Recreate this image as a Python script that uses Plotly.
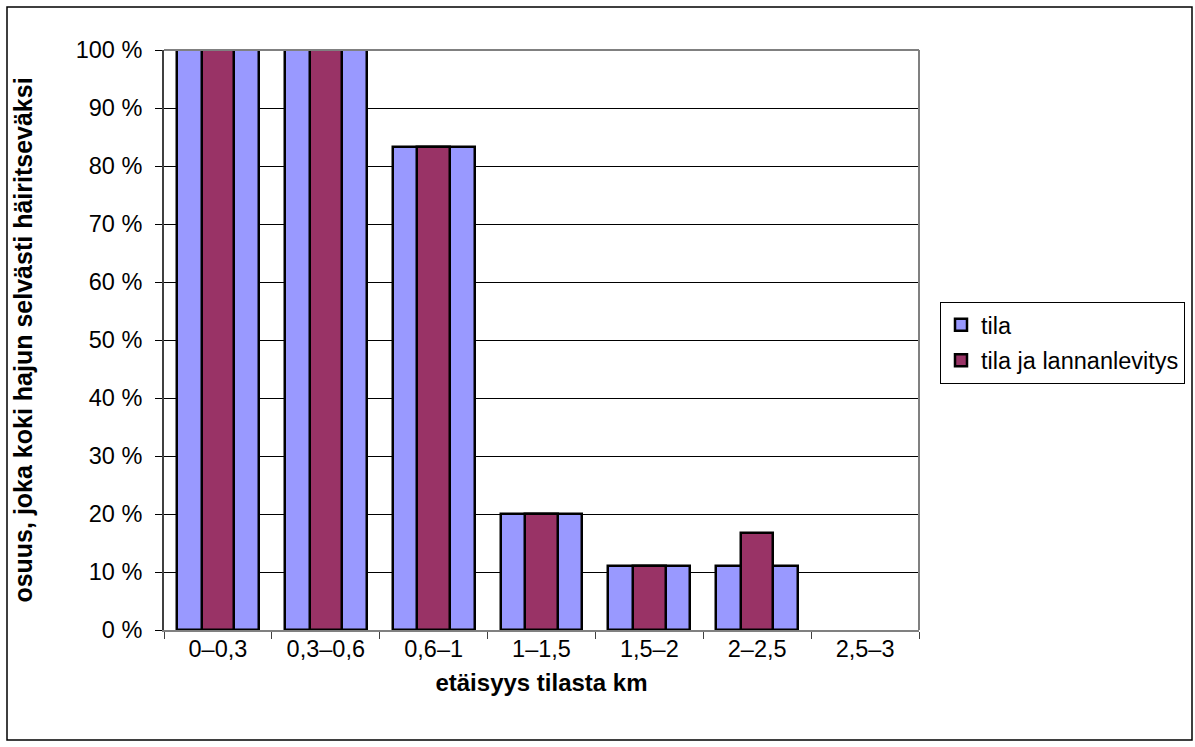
import plotly.graph_objects as go

# distance bands from the farm (km)
categories = ["0–0,3", "0,3–0,6", "0,6–1", "1–1,5", "1,5–2", "2–2,5", "2,5–3"]
# share of respondents who found the odour clearly disturbing (%)
tila = [100, 100, 83.3, 20, 11.1, 11.1, 0]
tila_ja_lannanlevitys = [100, 100, 83.3, 20, 11.1, 16.7, 0]
y_ticks = [0, 10, 20, 30, 40, 50, 60, 70, 80, 90, 100]
y_tick_labels = [f"{v} %" for v in y_ticks]

FONT = "Arial, 'Liberation Sans', sans-serif"
TICK_SIZE = 23.5
TITLE_SIZE = 24
W, H = 1195, 747
L, R, T, B = 164, 276, 50, 117  # plot-area margins in px
pw, ph = W - L - R, H - T - B


def outline(values):
    # no outline on empty bars so they leave no stray line on the axis
    return [2.5 if v > 0 else 0 for v in values]


fig = go.Figure()
fig.add_trace(go.Bar(
    x=categories, y=tila, name="tila", width=0.76,
    marker=dict(color="#9999FF", line=dict(color="black", width=outline(tila))),
    legendgroup="a",
))
fig.add_trace(go.Bar(
    x=categories, y=tila_ja_lannanlevitys, name="tila ja lannanlevitys", width=0.30,
    marker=dict(color="#993366",
                line=dict(color="black", width=outline(tila_ja_lannanlevitys))),
    legendgroup="b",
))


def px_x(p):
    return (p - L) / pw


def px_y(p):
    return (H - B - p) / ph


# outer chart frame
fig.add_shape(type="rect", xref="paper", yref="paper",
              x0=px_x(7), x1=px_x(1192), y0=px_y(740), y1=px_y(7),
              line=dict(color="black", width=1.5), layer="below")

fig.update_layout(
    width=W, height=H,
    margin=dict(l=L, r=R, t=T, b=B, autoexpand=False),
    paper_bgcolor="white", plot_bgcolor="white",
    barmode="overlay", bargap=0,
    font=dict(family=FONT, size=TICK_SIZE, color="black"),
    showlegend=True,
    legend=dict(
        x=px_x(940), y=px_y(302), xanchor="left", yanchor="top",
        bgcolor="white", bordercolor="black", borderwidth=1,
        font=dict(family=FONT, size=TICK_SIZE, color="black"),
        tracegroupgap=2, itemwidth=30,
    ),
    xaxis=dict(
        type="category", range=[-0.5, 6.5],
        showline=True, linecolor="#808080", linewidth=2, mirror=False,
        ticks="outside", ticklen=7, tickcolor="#404040", tickwidth=1,
        tickson="boundaries", showgrid=False,
        tickfont=dict(family=FONT, size=TICK_SIZE, color="black"),
        ticklabelstandoff=-3,
        title=dict(text="<b>etäisyys tilasta km</b>", standoff=13,
                   font=dict(family=FONT, size=TITLE_SIZE, color="black")),
    ),
    yaxis=dict(
        range=[0, 100], tickvals=y_ticks, ticktext=y_tick_labels,
        showline=True, linecolor="#404040", linewidth=2,
        ticks="outside", ticklen=7, tickcolor="black", tickwidth=1,
        showgrid=True, gridcolor="black", gridwidth=1,
        tickfont=dict(family=FONT, size=TICK_SIZE, color="black"),
        ticklabelstandoff=8,
        title=dict(text="<b>osuus, joka koki hajun selvästi häiritseväksi</b>", standoff=36,
                   font=dict(family=FONT, size=25, color="black")),
        zeroline=False,
    ),
)

# grey plot-area border on the top and right
fig.add_shape(type="line", xref="paper", yref="paper", x0=0, x1=1, y0=1, y1=1,
              line=dict(color="#808080", width=2))
fig.add_shape(type="line", xref="paper", yref="paper", x0=1, x1=1, y0=0, y1=1,
              line=dict(color="#808080", width=2))

fig.write_html("out.html")
